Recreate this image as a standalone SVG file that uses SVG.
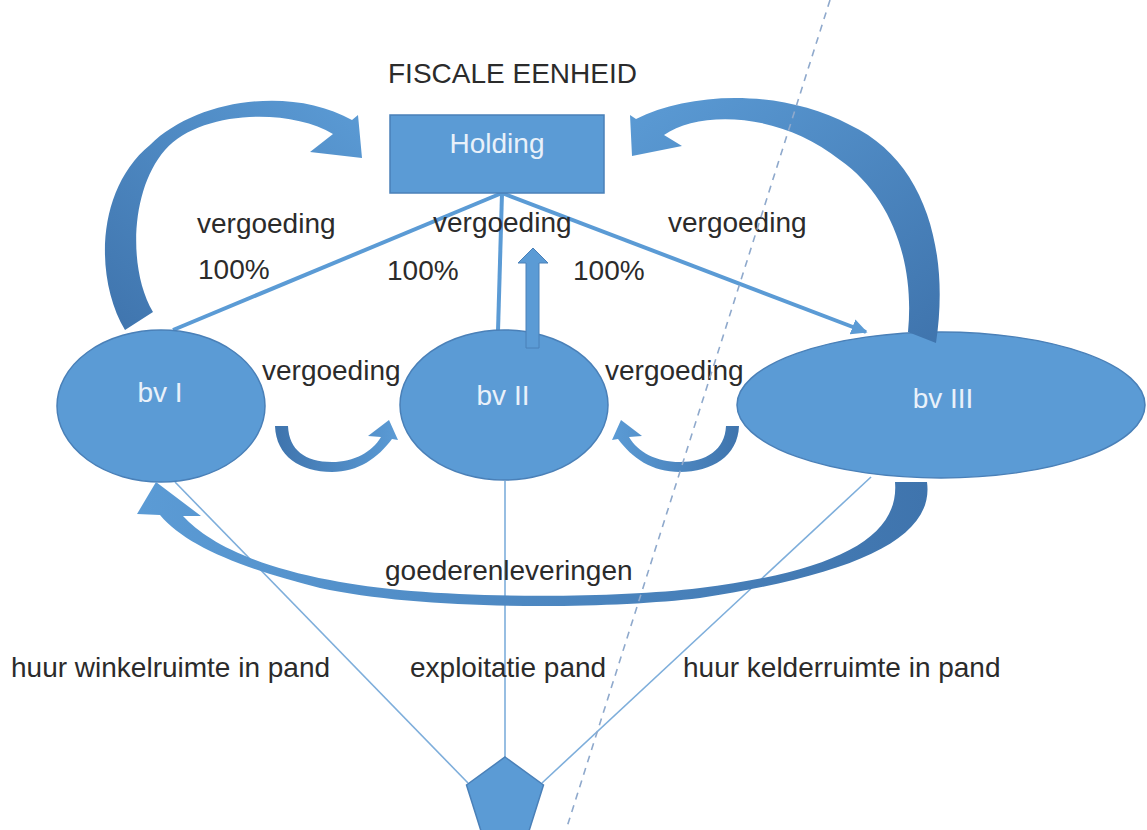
<svg xmlns="http://www.w3.org/2000/svg" width="1147" height="830" viewBox="0 0 1147 830">
  <defs>
    <style>
      .lbl { font-family: "Liberation Sans", Arial, sans-serif; font-size: 28px; fill: #2b2b2b; }
      .nlbl { font-family: "Liberation Sans", Arial, sans-serif; font-size: 28px; fill: #e9f1fa; text-anchor: middle; }
      .node { fill: #5b9bd5; stroke: #4a80b8; stroke-width: 1.5; }
      .thick { stroke: #5b9bd5; stroke-width: 4; fill: none; }
      .thin { stroke: #7eaedb; stroke-width: 1.6; fill: none; }
      .dash { stroke: #8fa9cc; stroke-width: 1.6; stroke-dasharray: 7 6; fill: none; }
    </style>
    <linearGradient id="gTL" x1="0" y1="1" x2="1" y2="0">
      <stop offset="0" stop-color="#3f74ad"/>
      <stop offset="1" stop-color="#5b9bd5"/>
    </linearGradient>
    <linearGradient id="gTR" x1="1" y1="1" x2="0" y2="0">
      <stop offset="0" stop-color="#3f74ad"/>
      <stop offset="1" stop-color="#5b9bd5"/>
    </linearGradient>
    <linearGradient id="gB" x1="1" y1="0" x2="0" y2="0">
      <stop offset="0" stop-color="#3f74ad"/>
      <stop offset="1" stop-color="#5b9bd5"/>
    </linearGradient>
    <linearGradient id="gSL" x1="0" y1="0" x2="1" y2="0">
      <stop offset="0" stop-color="#3f74ad"/>
      <stop offset="1" stop-color="#5b9bd5"/>
    </linearGradient>
    <linearGradient id="gSR" x1="1" y1="0" x2="0" y2="0">
      <stop offset="0" stop-color="#3f74ad"/>
      <stop offset="1" stop-color="#5b9bd5"/>
    </linearGradient>
    <marker id="ah" viewBox="0 0 10 10" refX="9" refY="5" markerWidth="4" markerHeight="4" orient="auto" markerUnits="strokeWidth">
      <path d="M0,0 L10,5 L0,10 Z" fill="#5b9bd5"/>
    </marker>
  </defs>

  <rect width="1147" height="830" fill="#ffffff"/>

  <g id="connectors">
    <!-- holding to bv's -->
    <line class="thick" x1="502" y1="193" x2="173" y2="330"/>
    <line class="thick" x1="502" y1="193" x2="498" y2="331"/>
    <line class="thick" x1="502" y1="193" x2="866" y2="332" marker-end="url(#ah)"/>
    <!-- thin lines to pentagon -->
    <line class="thin" x1="175" y1="482" x2="468" y2="783"/>
    <line class="thin" x1="505" y1="481" x2="505" y2="757"/>
    <line class="thin" x1="871" y1="477" x2="542" y2="783"/>
  </g>

  <g id="bv1">
    <ellipse class="node" cx="161" cy="406" rx="104" ry="76"/>
    <text class="nlbl" x="160" y="402">bv I</text>
  </g>
  <g id="bv2">
    <ellipse class="node" cx="504" cy="405" rx="104" ry="75"/>
    <text class="nlbl" x="503" y="405">bv II</text>
  </g>
  <g id="bv3">
    <ellipse class="node" cx="941" cy="405" rx="204" ry="73"/>
    <text class="nlbl" x="943" y="408">bv III</text>
  </g>
  <g id="holding">
    <rect class="node" x="390" y="115" width="214" height="78"/>
    <text class="nlbl" x="497" y="153">Holding</text>
  </g>
  <g id="pand">
    <polygon class="node" points="505,757 543.5,785 529,831 481,831 466.5,785"/>
  </g>

  <g id="arrows">
    <!-- top-left curved arrow bv I -> Holding -->
    <path fill="url(#gTL)" d="M125,330 C95,280 95,190 150,145 C195,100 290,85 352,120 L358,115 L362,158 L310,152 L333,134 C290,108 200,110 165,150 C130,190 128,270 153,312 Z"/>
    <!-- top-right curved arrow bv III -> Holding -->
    <path fill="url(#gTR)" d="M936,343 C950,250 925,160 850,125 C780,88 690,92 636,119 L630,115 L632,156 L682,146 L664,135 C700,110 780,112 840,160 C890,195 915,260 908,332 Z"/>
    <!-- up arrow bv II -> Holding -->
    <path fill="#5b9bd5" stroke="#4a80b8" stroke-width="1" d="M526,348 L526,263 L518,263 L533,248 L548,263 L539,263 L539,348 Z"/>
    <!-- small U arrow bv I -> bv II -->
    <path fill="url(#gSL)" d="M275,426 C276,456 300,472 332,472 C358,472 378,458 392,439 L398,440 L389,420 L368,436 L381,437 C372,452 354,462 332,462 C305,462 289,450 288,426 Z"/>
    <!-- small U arrow bv III -> bv II -->
    <path fill="url(#gSR)" d="M739,426 C738,456 712,472 680,472 C652,472 632,458 618,439 L612,440 L621,420 L642,436 L629,437 C638,452 656,462 680,462 C706,462 725,450 726,426 Z"/>
    <!-- goederenleveringen bv III -> bv I -->
    <path fill="url(#gB)" d="M927,482 C935,540 850,575 700,598 C600,610 420,610 320,588 C240,568 185,545 160,515 L137,514 L156,482 L201,516 L183,516 C205,540 250,565 330,580 C420,599 600,600 700,588 C830,572 900,540 895,482 Z"/>
  </g>

  <g id="labels">
    <text class="lbl" x="388" y="83">FISCALE EENHEID</text>
    <text class="lbl" x="197" y="233">vergoeding</text>
    <text class="lbl" x="198" y="279">100%</text>
    <text class="lbl" x="433" y="232">vergoeding</text>
    <text class="lbl" x="387" y="280">100%</text>
    <text class="lbl" x="573" y="280">100%</text>
    <text class="lbl" x="668" y="232">vergoeding</text>
    <text class="lbl" x="262" y="380">vergoeding</text>
    <text class="lbl" x="605" y="380">vergoeding</text>
    <text class="lbl" x="385" y="580">goederenleveringen</text>
    <text class="lbl" x="11" y="677">huur winkelruimte in pand</text>
    <text class="lbl" x="410" y="677">exploitatie pand</text>
    <text class="lbl" x="683" y="677">huur kelderruimte in pand</text>
  </g>

  <g id="divider">
    <line class="dash" x1="830" y1="0" x2="566" y2="830"/>
  </g>
</svg>
